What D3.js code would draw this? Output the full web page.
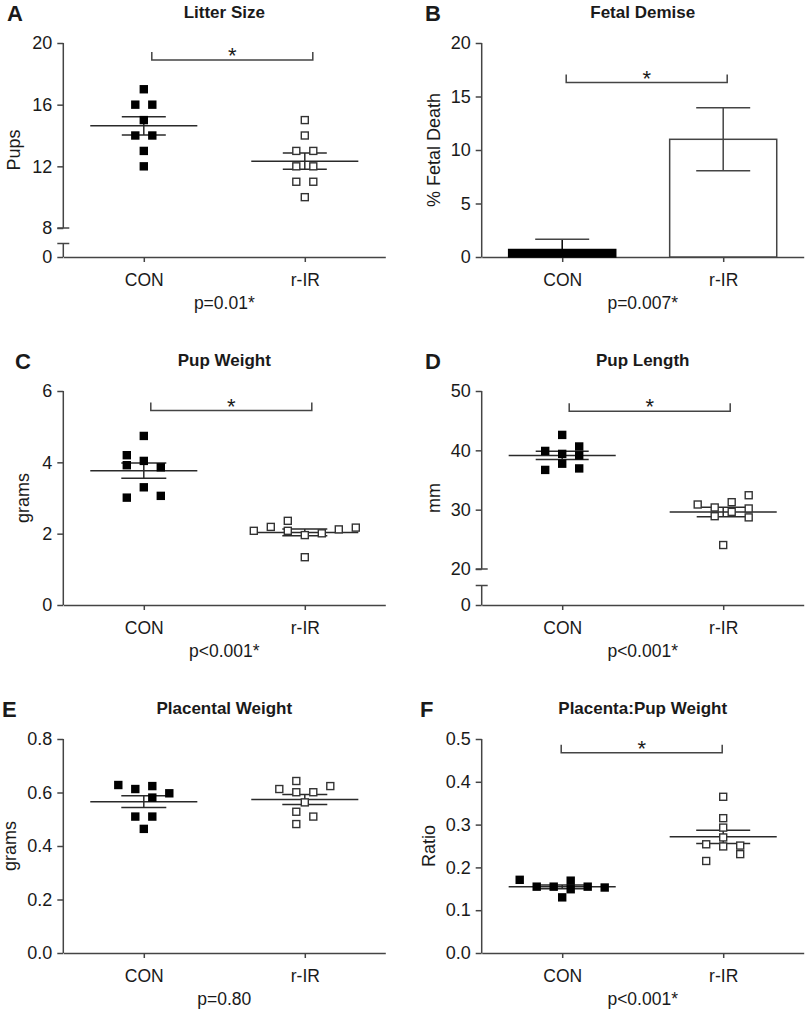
<!DOCTYPE html>
<html>
<head>
<meta charset="utf-8">
<script src="https://cdn.jsdelivr.net/npm/d3@7"></script>
<style>
	body { margin: 0; background: #fff; }
	svg text { font-family: "Liberation Sans", Arial, Helvetica, sans-serif; fill: #1a1a1a; }
</style>
</head>
<body>
<div id="viz"></div>
<script>
const groups = ['CON', 'r-IR'];

// A - litter size
const litterTicks = [0, 8, 12, 16, 20];
const litterCon = [17, 16, 16, 15, 14, 14, 13, 12];
const litterConCol = [0, -0.5, 0.5, 0, -0.5, 0.5, 0, 0];
const litterRir = [15, 14, 13, 13, 12, 12, 11, 11, 10];
const litterRirCol = [0, 0, -0.5, 0.5, -0.5, 0.5, -0.5, 0.5, 0];

// B - fetal demise (bars, mean + sem)
const demiseTicks = [0, 5, 10, 15, 20];
const demiseMean = [0.7, 11.0];
const demiseSem = [0.95, 2.95];

// C - pup weight
const weightTicks = [0, 2, 4, 6];
const weightCon = [4.74, 4.2, 4.04, 3.92, 3.86, 3.3, 3.01, 3.06];
const weightConCol = [0, -1, 0, -1, 1, 0, -1, 1];
const weightRir = [2.08, 2.19, 2.36, 2.08, 1.96, 1.34, 2.01, 2.12, 2.17];
const weightRirCol = [-3, -2, -1, -1, 0, 0, 1, 2, 3];

// D - pup length
const lengthTicks = [0, 20, 30, 40, 50];
const lengthCon = [42.6, 39.9, 39.4, 37.75, 36.7, 40.65, 39.15, 36.95];
const lengthConCol = [0, -1, 0, 0, -1, 1, 1, 1];
const lengthRir = [30.87, 30.37, 28.9, 31.26, 29.63, 32.43, 30.2, 28.7, 24.04];
const lengthRirCol = [-1.5, -0.5, -0.5, 0.5, 0.5, 1.5, 1.5, 1.5, 0];

// E - placental weight
const placTicks = [0, 0.2, 0.4, 0.6, 0.8];
const placCon = [0.628, 0.613, 0.624, 0.581, 0.597, 0.51, 0.51, 0.464];
const placConCol = [-1.5, -0.5, 0.5, 0.5, 1.5, -0.5, 0.5, 0];
const placRir = [0.613, 0.643, 0.601, 0.528, 0.482, 0.601, 0.51, 0.563, 0.624];
const placRirCol = [-1.5, -0.5, -0.5, -0.5, -0.5, 0.5, 0.5, 0, 1.5];

// F - placenta:pup ratio
const ratioTicks = [0, 0.1, 0.2, 0.3, 0.4, 0.5];
const ratioCon = [0.171, 0.155, 0.155, 0.13, 0.169, 0.149, 0.155, 0.153];
const ratioConCol = [-2.5, -1.5, -0.5, 0, 0.5, 0.5, 1.5, 2.5];
const ratioRir = [0.365, 0.315, 0.293, 0.27, 0.249, 0.254, 0.215, 0.251, 0.231];
const ratioRirCol = [0, 0, 0, 0, 0, -1, -1, 1, 1];

const pLabels = ['p=0.01*', 'p=0.007*', 'p<0.001*', 'p<0.001*', 'p=0.80', 'p<0.001*'];

const W = 322, H = 214;
const colX = [63.3, 481.7];
const rowTop = [43, 391, 739];
const AXIS = '#444';
const LINE = '#2a2a2a';

const fmtInt = d3.format('d');
const fmt1 = d3.format('.1f');

let panels = [
	{ letter: 'A', letterX: 7, col: 0, row: 0, title: 'Litter Size', yLabel: 'Pups', labelOff: -43,
		ticks: litterTicks, domain: [0, 8, 20], brk: [29, 13.5], fmt: fmtInt,
		con: litterCon, conCol: litterConCol, rir: litterRir, rirCol: litterRirCol,
		sig: 18.9, sigShift: 8, capW: 44 },
	{ letter: 'B', letterX: 425, col: 1, row: 0, title: 'Fetal Demise', yLabel: '% Fetal Death', labelOff: -42,
		ticks: demiseTicks, domain: [0, 20], fmt: fmtInt, bars: true,
		sig: 16.3, sigShift: 4, capW: 54 },
	{ letter: 'C', letterX: 15, col: 0, row: 1, title: 'Pup Weight', yLabel: 'grams', labelOff: -34,
		ticks: weightTicks, domain: [0, 6], fmt: fmtInt,
		con: weightCon, conCol: weightConCol, rir: weightRir, rirCol: weightRirCol,
		sig: 5.45, sigShift: 7, capW: 45 },
	{ letter: 'D', letterX: 425, col: 1, row: 1, title: 'Pup Length', yLabel: 'mm', labelOff: -42,
		ticks: lengthTicks, domain: [0, 20, 50], brk: [36, 19.5], fmt: fmtInt,
		con: lengthCon, conCol: lengthConCol, rir: lengthRir, rirCol: lengthRirCol,
		sig: 46.6, sigShift: 7, capW: 53 },
	{ letter: 'E', letterX: 2, col: 0, row: 2, title: 'Placental Weight', yLabel: 'grams', labelOff: -47.5,
		ticks: placTicks, domain: [0, 0.8], fmt: fmt1,
		con: placCon, conCol: placConCol, rir: placRir, rirCol: placRirCol,
		sig: null, capW: 45 },
	{ letter: 'F', letterX: 420, col: 1, row: 2, title: 'Placenta:Pup Weight', yLabel: 'Ratio', labelOff: -47,
		ticks: ratioTicks, domain: [0, 0.5], fmt: fmt1,
		con: ratioCon, conCol: ratioConCol, rir: ratioRir, rirCol: ratioRirCol,
		sig: 0.4676, sigShift: -1, capW: 54 }
];

const svg = d3.select('#viz').append('svg')
	.attr('width', 805)
	.attr('height', 1012);

// column spread of overlapping points
const jitter = d3.scaleLinear().domain([0, 1]).range([0, 17]);

panels.forEach((p, i) => {
	let x0 = colX[p.col],
		top = rowTop[p.row],
		bottom = top + H;

	let x = d3.scalePoint()
		.domain(groups)
		.range([x0, x0 + W])
		.padding(0.5);

	let yRange = p.brk ? [bottom, bottom - p.brk[0], top] : [bottom, top];
	let y = d3.scaleLinear()
		.domain(p.domain)
		.range(yRange);

	let g = svg.append('g');

	// panel letter + title
	g.append('text')
		.attr('x', p.letterX)
		.attr('y', top - 22)
		.style('font-size', '22px')
		.style('font-weight', 'bold')
		.text(p.letter);

	g.append('text')
		.attr('x', (x(groups[0]) + x(groups[1])) / 2)
		.attr('y', top - 25)
		.attr('text-anchor', 'middle')
		.style('font-size', '17px')
		.style('font-weight', 'bold')
		.text(p.title);

	// y axis
	let yAxis = g.append('g')
		.attr('transform', `translate(${x0},0)`)
		.call(d3.axisLeft(y).tickValues(p.ticks).tickSize(6).tickPadding(5).tickFormat(p.fmt));
	yAxis.select('.domain').remove();
	yAxis.selectAll('line').attr('stroke', AXIS).attr('stroke-width', 1.5);
	yAxis.selectAll('text').style('font-size', '18px');

	let axisLine = (y1, y2) => g.append('line')
		.attr('x1', x0).attr('x2', x0)
		.attr('y1', y1).attr('y2', y2)
		.attr('stroke', AXIS).attr('stroke-width', 1.5);
	let cap = (yy) => g.append('line')
		.attr('x1', x0 - 6).attr('x2', x0 + 6)
		.attr('y1', yy).attr('y2', yy)
		.attr('stroke', AXIS).attr('stroke-width', 1.5);

	if (p.brk) {
		axisLine(y(p.domain[1]), top);
		axisLine(bottom, bottom - p.brk[1]);
		cap(y(p.domain[1]));
		cap(bottom - p.brk[1]);
	} else {
		axisLine(bottom, top);
	}

	// x axis
	let xAxis = g.append('g')
		.attr('transform', `translate(0,${bottom})`)
		.call(d3.axisBottom(x).tickSize(5).tickSizeOuter(0).tickPadding(12));
	xAxis.select('.domain').attr('stroke', AXIS).attr('stroke-width', 1.5);
	xAxis.selectAll('line').attr('stroke', AXIS).attr('stroke-width', 1.5);
	xAxis.selectAll('text').style('font-size', '17.5px');

	// y label
	g.append('text')
		.attr('transform', `translate(${x0 + p.labelOff},${(top + bottom) / 2}) rotate(-90)`)
		.attr('text-anchor', 'middle')
		.style('font-size', '18px')
		.text(p.yLabel);

	// p value
	g.append('text')
		.attr('x', (x(groups[0]) + x(groups[1])) / 2)
		.attr('y', bottom + 52)
		.attr('text-anchor', 'middle')
		.style('font-size', '17.5px')
		.text(pLabels[i]);

	let meanW = x.step() * 0.665;

	if (p.bars) {
		groups.forEach((grp, gi) => {
			let m = demiseMean[gi], s = demiseSem[gi], cx = x(grp);
			g.append('rect')
				.attr('x', cx - meanW / 2)
				.attr('y', y(m))
				.attr('width', meanW)
				.attr('height', y(0) - y(m))
				.attr('fill', gi === 0 ? '#000' : '#fff')
				.attr('stroke', gi === 0 ? '#000' : AXIS)
				.attr('stroke-width', 1.5);

			let lo = Math.max(0, m - s);
			g.append('line')
				.attr('x1', cx).attr('x2', cx)
				.attr('y1', y(lo)).attr('y2', y(m + s))
				.attr('stroke', gi === 0 ? '#000' : AXIS).attr('stroke-width', 1.5);
			let ends = m - s > 0 ? [m + s, m - s] : [m + s];
			for (let e of ends) {
				g.append('line')
					.attr('x1', cx - p.capW / 2).attr('x2', cx + p.capW / 2)
					.attr('y1', y(e)).attr('y2', y(e))
					.attr('stroke', AXIS).attr('stroke-width', 1.5);
			}
		});
	} else {
		let sets = [[p.con, p.conCol], [p.rir, p.rirCol]];
		sets.forEach(([vals, cols], gi) => {
			let cx = x(groups[gi]);
			let m = d3.mean(vals);
			let sem = d3.deviation(vals) / Math.sqrt(vals.length);

			let stat = g.append('g')
				.attr('stroke', LINE)
				.attr('stroke-width', 1.5);
			stat.append('line')
				.attr('x1', cx - meanW / 2).attr('x2', cx + meanW / 2)
				.attr('y1', y(m)).attr('y2', y(m));
			for (let e of [m + sem, m - sem]) {
				stat.append('line')
					.attr('x1', cx - p.capW / 2).attr('x2', cx + p.capW / 2)
					.attr('y1', y(e)).attr('y2', y(e));
			}
			stat.append('line')
				.attr('x1', cx).attr('x2', cx)
				.attr('y1', y(m + sem)).attr('y2', y(m - sem));

			let pts = vals.map((v, k) => ({ v, c: cols[k] }));
			let size = gi === 0 ? 8.4 : 7;
			g.selectAll(null)
				.data(pts)
				.join('rect')
				.attr('x', d => cx + jitter(d.c) - size / 2)
				.attr('y', d => y(d.v) - size / 2)
				.attr('width', size)
				.attr('height', size)
				.attr('fill', gi === 0 ? '#000' : '#fff')
				.attr('stroke', gi === 0 ? 'none' : '#333')
				.attr('stroke-width', 1.4);
		});
	}

	// significance bracket
	if (p.sig != null) {
		let xa = x(groups[0]) + p.sigShift,
			xb = x(groups[1]) + p.sigShift,
			yb = y(p.sig);
		g.append('path')
			.attr('d', `M${xa},${yb - 8}V${yb}H${xb}V${yb - 8}`)
			.attr('fill', 'none')
			.attr('stroke', AXIS)
			.attr('stroke-width', 1.5);
		g.append('text')
			.attr('x', (xa + xb) / 2)
			.attr('y', yb + 3)
			.attr('text-anchor', 'middle')
			.style('font-size', '22px')
			.text('*');
	}
});
</script>
</body>
</html>
